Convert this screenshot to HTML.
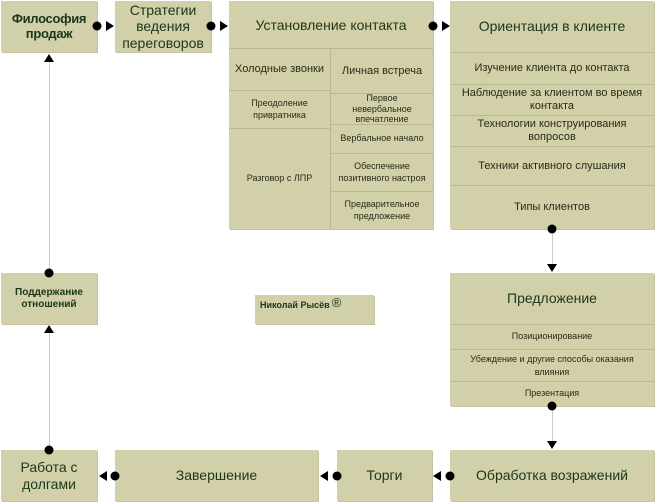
<!DOCTYPE html>
<html><head><meta charset="utf-8"><style>
body{margin:0;width:655px;height:503px;background:#fff;position:relative;overflow:hidden;font-family:"Liberation Sans",sans-serif;color:#1c361c}
.b{position:absolute;background:#d1d0a9;box-shadow:1px 1px 0 #c4c3a0;display:flex;align-items:center;justify-content:center;text-align:center;box-sizing:border-box;line-height:1.15}
.c{position:absolute;display:flex;align-items:center;justify-content:center;text-align:center;box-sizing:border-box;border-top:1px solid #b9b894;line-height:1.3;color:#2a2a1a}
svg{position:absolute;left:0;top:0}
</style></head><body>
<div class="b" style="left:1px;top:1px;width:96px;height:51px;font-size:13px;font-weight:bold;letter-spacing:-0.3px">Философия<br>продаж</div>
<div class="b" style="left:115px;top:1px;width:96px;height:51px;font-size:14px">Стратегии<br>ведения<br>переговоров</div>

<div class="b" style="left:229px;top:1px;width:204px;height:228px;align-items:flex-start;padding-top:16px;font-size:14px">Установление контакта</div>
<div class="c" style="left:229px;top:48px;width:101px;height:42px;font-size:11px">Холодные звонки</div>
<div class="c" style="left:229px;top:90px;width:101px;height:38px;font-size:9px">Преодоление<br>привратника</div>
<div class="c" style="left:229px;top:128px;width:101px;height:101px;font-size:9px">Разговор с ЛПР</div>
<div style="position:absolute;left:330px;top:48px;width:1px;height:181px;background:#b9b894"></div>
<div class="c" style="left:331px;top:48px;width:102px;height:45px;font-size:11px">Личная встреча</div>
<div class="c" style="left:331px;top:93px;width:102px;height:31px;font-size:9px;line-height:1.15">Первое<br>невербальное<br>впечатление</div>
<div class="c" style="left:331px;top:124px;width:102px;height:29px;font-size:9px">Вербальное начало</div>
<div class="c" style="left:331px;top:153px;width:102px;height:38px;font-size:9px">Обеспечение<br>позитивного настроя</div>
<div class="c" style="left:331px;top:191px;width:102px;height:38px;font-size:9px">Предварительное<br>предложение</div>

<div class="b" style="left:450px;top:1px;width:204px;height:228px;align-items:flex-start;padding-top:17px;font-size:14px">Ориентация в клиенте</div>
<div class="c" style="left:450px;top:52px;width:204px;height:32px;font-size:11px">Изучение клиента до контакта</div>
<div class="c" style="left:450px;top:84px;width:204px;height:31px;font-size:11px;line-height:1.2">Наблюдение за клиентом во время<br>контакта</div>
<div class="c" style="left:450px;top:115px;width:204px;height:31px;font-size:11px;line-height:1.2">Технологии конструирования<br>вопросов</div>
<div class="c" style="left:450px;top:146px;width:204px;height:39px;font-size:11px">Техники активного слушания</div>
<div class="c" style="left:450px;top:185px;width:204px;height:44px;font-size:11px">Типы клиентов</div>

<div class="b" style="left:450px;top:273px;width:204px;height:133px;align-items:flex-start;padding-top:17px;font-size:14px">Предложение</div>
<div class="c" style="left:450px;top:324px;width:204px;height:25px;font-size:9px">Позиционирование</div>
<div class="c" style="left:450px;top:349px;width:204px;height:32px;font-size:9px;line-height:1.4">Убеждение и другие способы оказания<br>влияния</div>
<div class="c" style="left:450px;top:381px;width:204px;height:25px;font-size:9px">Презентация</div>

<div class="b" style="left:1px;top:273px;width:96px;height:51px;font-size:10px;font-weight:bold">Поддержание<br>отношений</div>
<div class="b" style="left:255px;top:295px;width:119px;height:29px;font-size:9px;font-weight:bold;justify-content:flex-start;align-items:flex-start;padding:5px 0 0 5px">Николай Рысёв<span style="font-weight:normal;font-size:13px;margin-left:2px;margin-top:-4px">®</span></div>

<div class="b" style="left:1px;top:450px;width:96px;height:51px;font-size:14px">Работа с<br>долгами</div>
<div class="b" style="left:115px;top:450px;width:203px;height:51px;font-size:14px">Завершение</div>
<div class="b" style="left:337px;top:450px;width:95px;height:51px;font-size:14px">Торги</div>
<div class="b" style="left:450px;top:450px;width:204px;height:51px;font-size:14px">Обработка возражений</div>

<svg width="655" height="503">
<g stroke="#ccc" stroke-width="1"><line x1="49.5" y1="60" x2="49.5" y2="273"/><line x1="49.5" y1="332" x2="49.5" y2="450"/><line x1="552.5" y1="229" x2="552.5" y2="266"/><line x1="552.5" y1="406" x2="552.5" y2="442"/></g>
<g fill="#000">
<circle cx="97" cy="26" r="4.5"/><polygon points="106,21 114,26 106,31"/>
<circle cx="211" cy="26" r="4.5"/><polygon points="220,21 228,26 220,31"/>
<circle cx="433" cy="26" r="4.5"/><polygon points="442,21 450,26 442,31"/>
<circle cx="552" cy="229" r="4.5"/><polygon points="547,264 557,264 552,272"/>
<circle cx="552" cy="406" r="4.5"/><polygon points="547,441 557,441 552,449"/>
<circle cx="450" cy="476" r="4.5"/><polygon points="441,471 441,481 433,476"/>
<circle cx="337" cy="476" r="4.5"/><polygon points="328,471 328,481 320,476"/>
<circle cx="115" cy="476" r="4.5"/><polygon points="107,471 107,481 99,476"/>
<circle cx="49" cy="450" r="4.5"/><polygon points="44,333 54,333 49,325"/>
<circle cx="49" cy="273" r="4.5"/><polygon points="44,62 54,62 49,54"/>
</g>
</svg>
</body></html>
